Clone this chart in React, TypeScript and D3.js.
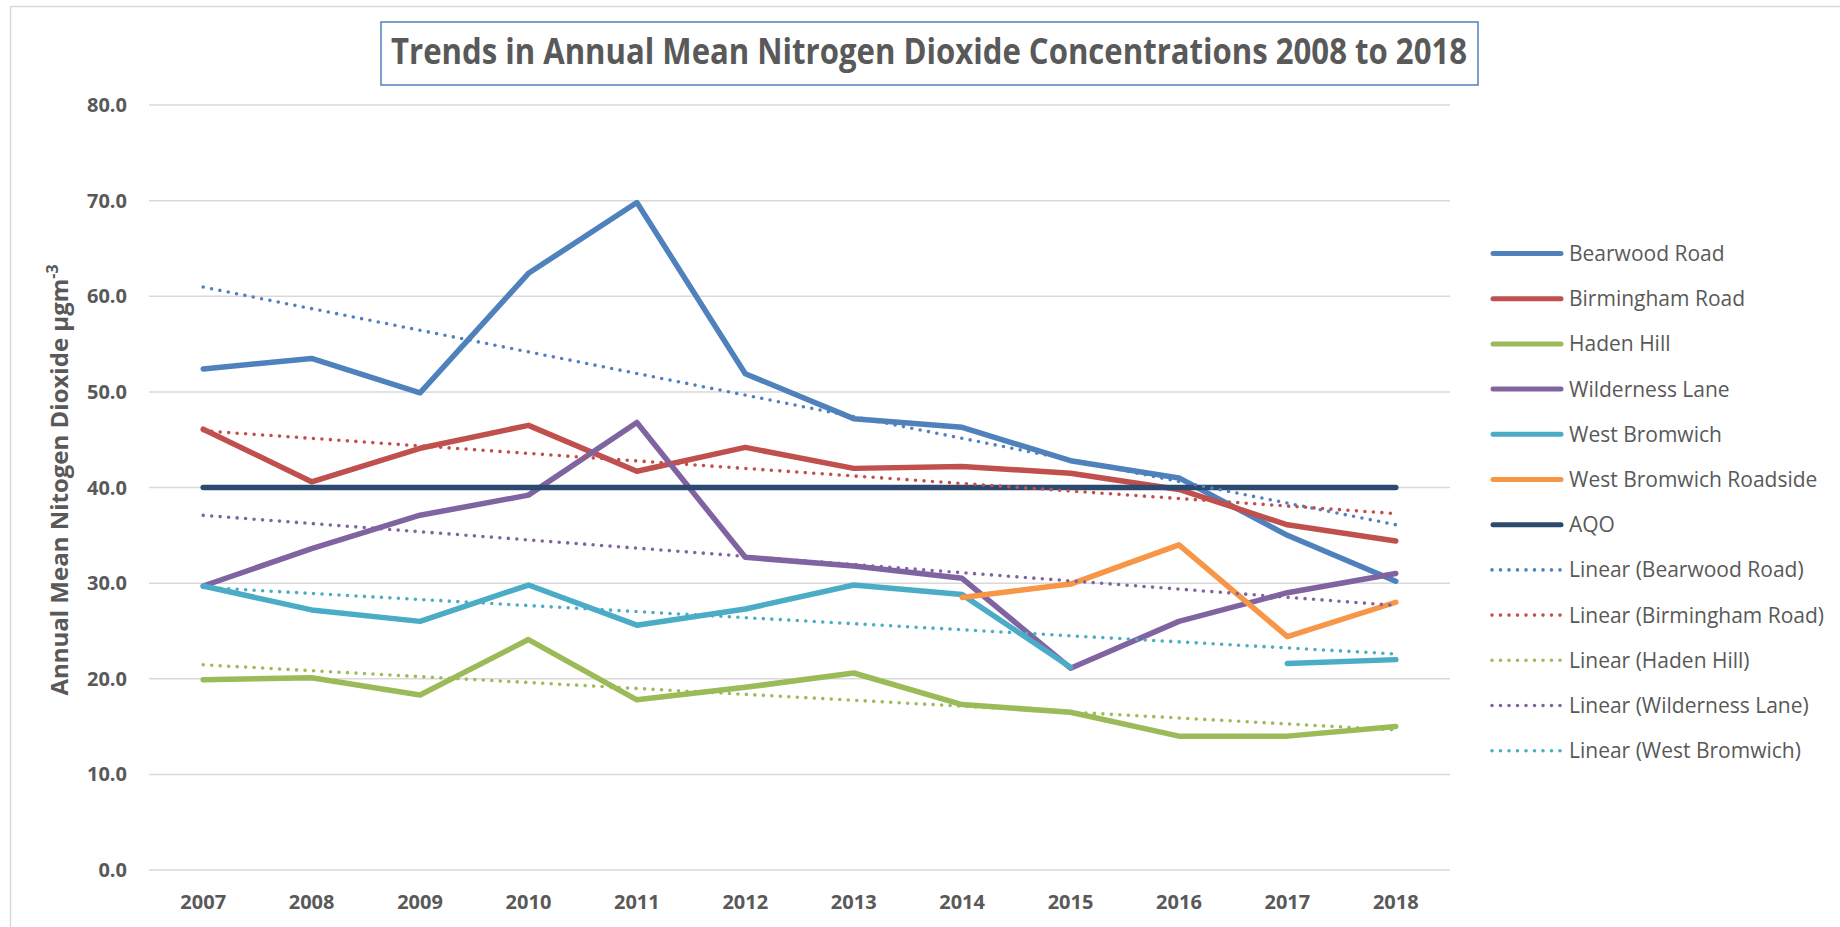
import * as d3 from 'd3';
import * as React from 'react';

const years = ['2007', '2008', '2009', '2010', '2011', '2012', '2013', '2014', '2015', '2016', '2017', '2018'];

const bearwoodRoad = [52.4, 53.5, 49.9, 62.4, 69.8, 51.9, 47.2, 46.3, 42.8, 41.0, 35.0, 30.2];
const birminghamRoad = [46.1, 40.6, 44.1, 46.5, 41.7, 44.2, 42.0, 42.2, 41.5, 39.8, 36.1, 34.4];
const hadenHill = [19.9, 20.1, 18.3, 24.1, 17.8, 19.1, 20.6, 17.3, 16.5, 14.0, 14.0, 15.0];
const wildernessLane = [29.7, 33.6, 37.1, 39.2, 46.8, 32.7, 31.8, 30.5, 21.1, 26.0, 29.0, 31.0];
const westBromwich = [29.7, 27.2, 26.0, 29.8, 25.6, 27.3, 29.8, 28.8, 21.2, null, 21.6, 22.0];
const westBromwichRoadside = [null, null, null, null, null, null, null, 28.5, 29.9, 34.0, 24.4, 28.0];
const aqo = [40, 40, 40, 40, 40, 40, 40, 40, 40, 40, 40, 40];

const yTicks = [0, 10, 20, 30, 40, 50, 60, 70, 80];

type Val = number | null;

interface ISeries {
  name: string;
  values: Val[];
  color: string;
  trend: boolean;
}

const series: ISeries[] = [
  { name: 'Bearwood Road', values: bearwoodRoad, color: '#4f81bd', trend: true },
  { name: 'Birmingham Road', values: birminghamRoad, color: '#c0504d', trend: true },
  { name: 'Haden Hill', values: hadenHill, color: '#9bbb59', trend: true },
  { name: 'Wilderness Lane', values: wildernessLane, color: '#8064a2', trend: true },
  { name: 'West Bromwich', values: westBromwich, color: '#4bacc6', trend: true },
  { name: 'West Bromwich Roadside', values: westBromwichRoadside, color: '#f79646', trend: false },
  { name: 'AQO', values: aqo, color: '#2c4a70', trend: false },
];

// least squares fit on category index, like the spreadsheet's linear trendline
const linearFit = (values: Val[]): Val[] => {
  const pts = values.map((v, i) => [i, v] as [number, Val]).filter((p) => p[1] != null) as [number, number][];
  const mx = d3.mean(pts, (p) => p[0]);
  const my = d3.mean(pts, (p) => p[1]);
  const sxy = d3.sum(pts, (p) => (p[0] - mx) * (p[1] - my));
  const sxx = d3.sum(pts, (p) => (p[0] - mx) ** 2);
  const slope = sxy / sxx;
  return values.map((_, i) => my + slope * (i - mx));
};

const width = 1840;
const height = 927;
const textColor = '#595959';
const font = "'Open Sans', 'DejaVu Sans', sans-serif";

export default function App() {
  const x = d3.scaleBand<string>().domain(years).range([149, 1450]);
  const y = d3.scaleLinear().domain([0, 80]).range([870, 105]);
  const cx = (i: number) => x(years[i]) + x.bandwidth() / 2;

  const line = d3
    .line<Val>()
    .defined((d) => d != null)
    .x((_, i) => cx(i))
    .y((d) => y(d as number));

  const trends = series.filter((s) => s.trend);
  const legendItems = [
    ...series.map((s) => ({ name: s.name, color: s.color, dotted: false })),
    ...trends.map((s) => ({ name: `Linear (${s.name})`, color: s.color, dotted: true })),
  ];

  return (
    <svg width={width} height={height} style={{ position: 'absolute', left: 0, top: 0, background: '#fff' }}>
      <rect x={10.5} y={6.5} width={width} height={height} fill="#fff" stroke="#d9d9d9" strokeWidth={1.5} />

      {/* title */}
      <rect x={381} y={22} width={1097} height={63} fill="none" stroke="#4f81bd" strokeWidth={1.5} />
      <text x={929} y={64} textAnchor="middle" fontFamily={font} fontWeight={700} fontSize={36} fill={textColor}
        textLength={1076} lengthAdjust="spacingAndGlyphs">
        Trends in Annual Mean Nitrogen Dioxide Concentrations 2008 to 2018
      </text>

      {/* grid */}
      {yTicks.map((t) => (
        <g key={t}>
          <line x1={149} x2={1450} y1={y(t)} y2={y(t)} stroke="#d9d9d9" strokeWidth={1.5} />
          <text x={127} y={y(t) + 7} textAnchor="end" fontFamily={font} fontWeight={700} fontSize={20} fill={textColor}>
            {t.toFixed(1)}
          </text>
        </g>
      ))}
      {years.map((yr, i) => (
        <text key={yr} x={cx(i)} y={909} textAnchor="middle" fontFamily={font} fontWeight={700} fontSize={20} fill={textColor}>
          {yr}
        </text>
      ))}

      <text transform="translate(68,480) rotate(-90)" textAnchor="middle" fontFamily={font} fontWeight={700} fontSize={24} fill={textColor}>
        Annual Mean Nitogen Dioxide µgm<tspan dy={-10} fontSize={16}>-3</tspan>
      </text>

      {/* series */}
      {series.map((s) => (
        <path key={s.name} d={line(s.values)} fill="none" stroke={s.color} strokeWidth={5.5}
          strokeLinejoin="round" strokeLinecap="round" />
      ))}
      {trends.map((s) => (
        <path key={s.name} d={line(linearFit(s.values))} fill="none" stroke={s.color} strokeWidth={3.6}
          strokeDasharray="0 8.5" strokeLinecap="round" />
      ))}

      {/* legend */}
      {legendItems.map((it, i) => {
        const ly = 253.5 + i * 45.2;
        return (
          <g key={it.name}>
            {it.dotted ? (
              <line x1={1492} x2={1561} y1={ly} y2={ly} stroke={it.color} strokeWidth={3.6}
                strokeDasharray="0 8.5" strokeLinecap="round" />
            ) : (
              <line x1={1493} x2={1561} y1={ly} y2={ly} stroke={it.color} strokeWidth={5} strokeLinecap="round" />
            )}
            <text x={1569} y={ly + 7.5} fontFamily={font} fontSize={21} fill={textColor}>
              {it.name}
            </text>
          </g>
        );
      })}
    </svg>
  );
}
